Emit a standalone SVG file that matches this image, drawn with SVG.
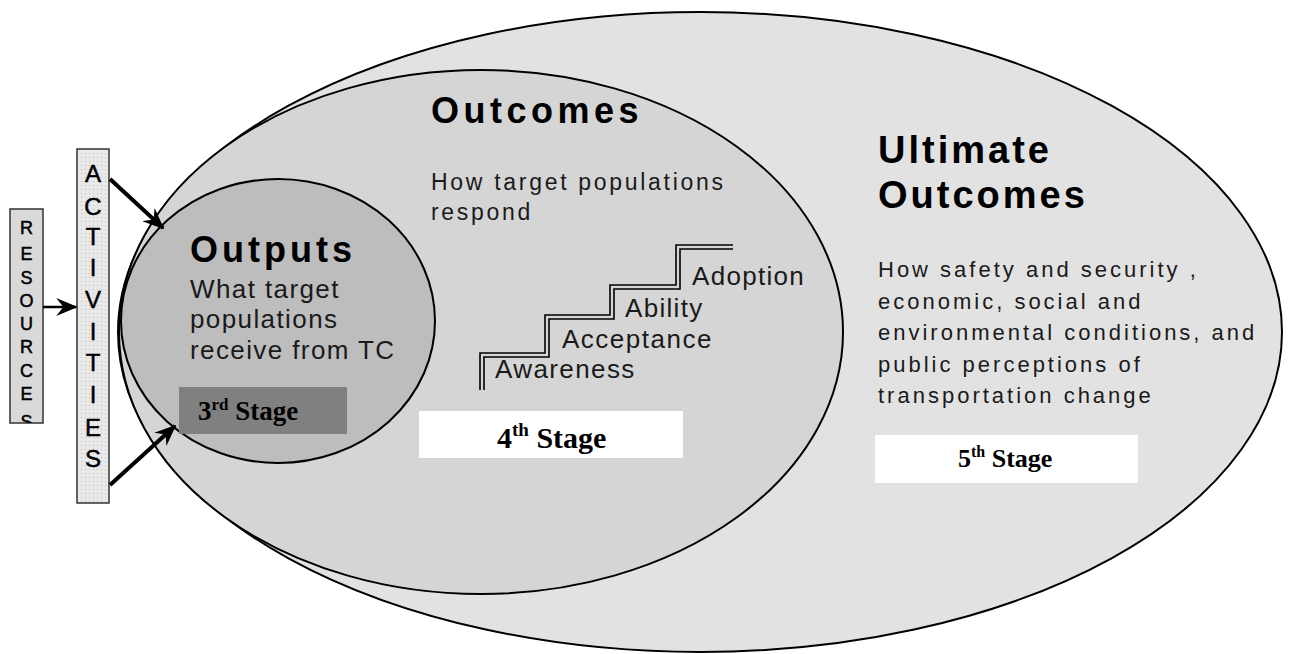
<svg xmlns="http://www.w3.org/2000/svg" width="1292" height="654" viewBox="0 0 1292 654">
<style>
.edge{stroke:#000;stroke-width:2;}
.h{font-family:"Liberation Sans",Arial,sans-serif;font-weight:bold;fill:#000;}
.b{font-family:"Liberation Sans",Arial,sans-serif;fill:#1a1a1a;}
.st{font-family:"Liberation Serif","Times New Roman",serif;font-weight:bold;fill:#000;}
.lt{font-family:"Liberation Sans",Arial,sans-serif;fill:#000;text-anchor:middle;stroke:#000;stroke-width:0.5;}
.conn{stroke:#000;stroke-width:4;fill:none;}
.stair{stroke:#000;stroke-width:1.6;fill:none;}
</style>
<defs>
<marker id="ah" viewBox="0 0 12 10" refX="11" refY="5" markerUnits="userSpaceOnUse" markerWidth="22" markerHeight="18" orient="auto">
<path d="M0,0 L12,5 L0,10 L4,5 z" fill="#000"/>
</marker>
<pattern id="dots" width="4" height="4" patternUnits="userSpaceOnUse">
<rect width="4" height="4" fill="#e9e9e9"/>
<rect x="1" y="1" width="1" height="1" fill="#bdbdbd"/>
</pattern>
<clipPath id="resclip"><rect x="10" y="209" width="33" height="214"/></clipPath>
</defs>
<rect width="1292" height="654" fill="#fff"/>

<g id="ultimate-outcomes">
<ellipse cx="700" cy="332" rx="582" ry="320" fill="#e2e2e2" class="edge"/>
<text class="h" font-size="38" letter-spacing="3" x="878" y="163">Ultimate</text>
<text class="h" font-size="38" letter-spacing="3" x="878" y="208">Outcomes</text>
<text class="b" font-size="22" letter-spacing="3">
<tspan x="878" y="277">How safety and security ,</tspan>
<tspan x="878" y="309">economic, social and</tspan>
<tspan x="878" y="340">environmental conditions, and</tspan>
<tspan x="878" y="372">public perceptions of</tspan>
<tspan x="878" y="403">transportation change</tspan>
</text>
<rect x="875" y="435" width="263" height="48" fill="#fff"/>
<text class="st" font-size="26" x="958" y="467">5<tspan font-size="16" dy="-10">th</tspan><tspan dy="10"> Stage</tspan></text>
</g>

<g id="outcomes">
<ellipse cx="481" cy="332" rx="362" ry="262" fill="#d5d5d5" class="edge"/>
<text class="h" font-size="36" letter-spacing="4.5" x="431" y="123">Outcomes</text>
<text class="b" font-size="23" letter-spacing="2.7">
<tspan x="431" y="190">How target populations</tspan>
<tspan x="431" y="220">respond</tspan>
</text>
<path class="stair" d="M480,390 V353 H545 V315 H610 V285 H676 V245 H733"/>
<path class="stair" d="M484,390 V357 H549 V319 H614 V289 H680 V249 H733"/>
<text class="b" font-size="26" letter-spacing="1.3" x="692" y="285">Adoption</text>
<text class="b" font-size="26" letter-spacing="1.3" x="625" y="317">Ability</text>
<text class="b" font-size="26" letter-spacing="1.5" x="562" y="348">Acceptance</text>
<text class="b" font-size="26" letter-spacing="1.4" x="495" y="378">Awareness</text>
<rect x="419" y="411" width="264" height="47" fill="#fff"/>
<text class="st" font-size="30" x="497" y="448">4<tspan font-size="19" dy="-12">th</tspan><tspan dy="12"> Stage</tspan></text>
</g>

<g id="outputs">
<ellipse cx="278" cy="321" rx="157" ry="142" fill="#bdbdbd" class="edge"/>
<text class="h" font-size="36" letter-spacing="4" x="190" y="262">Outputs</text>
<text class="b" font-size="26" letter-spacing="1.4">
<tspan x="190" y="298">What target</tspan>
<tspan x="190" y="328">populations</tspan>
<tspan x="190" y="359">receive from TC</tspan>
</text>
<rect x="179" y="387" width="168" height="47" fill="#808080"/>
<text class="st" font-size="27" x="198" y="420">3<tspan font-size="17" dy="-10">rd</tspan><tspan dy="10"> Stage</tspan></text>
</g>

<g id="resources">
<rect x="10" y="209" width="33" height="214" fill="#d9d9d9" stroke="#333" stroke-width="1.5"/>
<g clip-path="url(#resclip)">
<text class="lt" font-size="18" x="26.5" y="234">R</text>
<text class="lt" font-size="18" x="26.5" y="260">E</text>
<text class="lt" font-size="18" x="26.5" y="284">S</text>
<text class="lt" font-size="18" x="26.5" y="307">O</text>
<text class="lt" font-size="18" x="26.5" y="330">U</text>
<text class="lt" font-size="18" x="26.5" y="353">R</text>
<text class="lt" font-size="18" x="26.5" y="377">C</text>
<text class="lt" font-size="18" x="26.5" y="400">E</text>
<text class="lt" font-size="18" x="26.5" y="428">S</text>
</g>
</g>

<g id="activities">
<rect x="77" y="149" width="32" height="354" fill="url(#dots)" stroke="#333" stroke-width="1.5"/>
<text class="lt" font-size="24" x="93" y="182">A</text>
<text class="lt" font-size="24" x="93" y="215">C</text>
<text class="lt" font-size="24" x="93" y="245">T</text>
<text class="lt" font-size="24" x="93" y="276">I</text>
<text class="lt" font-size="24" x="93" y="308">V</text>
<text class="lt" font-size="24" x="93" y="340">I</text>
<text class="lt" font-size="24" x="93" y="371">T</text>
<text class="lt" font-size="24" x="93" y="403">I</text>
<text class="lt" font-size="24" x="93" y="436">E</text>
<text class="lt" font-size="24" x="93" y="467">S</text>
</g>

<g id="connectors">
<line class="conn" x1="43" y1="307" x2="76" y2="307" marker-end="url(#ah)" style="stroke-width:2.5"/>
<line class="conn" x1="110" y1="179" x2="163" y2="228" marker-end="url(#ah)"/>
<line class="conn" x1="110" y1="485" x2="175" y2="426" marker-end="url(#ah)"/>
</g>
</svg>
